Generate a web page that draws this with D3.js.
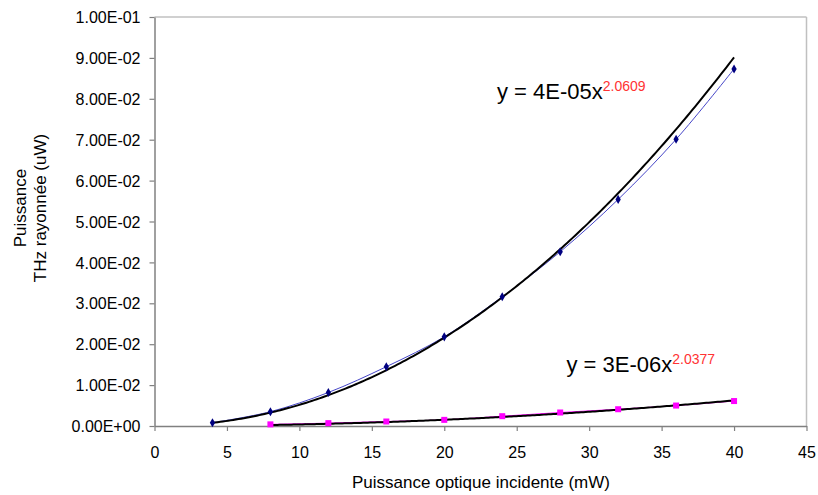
<!DOCTYPE html>
<html>
<head>
<meta charset="utf-8">
<script src="https://cdn.jsdelivr.net/npm/d3@7"></script>
<style>
  html, body { margin: 0; padding: 0; background: #fff; }
  svg text { font-family: "Liberation Sans", Arial, sans-serif; }
</style>
</head>
<body>
<div id="chart"></div>
<script>
// ---- data ----
const xTicks = [0, 5, 10, 15, 20, 25, 30, 35, 40, 45];
const yTicks = [0, 0.01, 0.02, 0.03, 0.04, 0.05, 0.06, 0.07, 0.08, 0.09, 0.10];
const yTickLabels = ["0.00E+00", "1.00E-02", "2.00E-02", "3.00E-02", "4.00E-02", "5.00E-02",
                     "6.00E-02", "7.00E-02", "8.00E-02", "9.00E-02", "1.00E-01"];

const seriesA_x = [4, 8, 12, 16, 20, 24, 28, 32, 36, 40];
const seriesA_y = [0.0008, 0.0035, 0.0082, 0.0145, 0.0218, 0.0316, 0.0426, 0.0554, 0.0701, 0.0873];

const seriesB_x = [8, 12, 16, 20, 24, 28, 32, 36, 40];
const seriesB_y = [0.0004, 0.0007, 0.0011, 0.0015, 0.0024, 0.0033, 0.0041, 0.0050, 0.0061];

// power trendlines y = a * x^b (exponent from the labels, coefficient)
const trendA = [4.5e-5, 2.0609];
const trendB = [3.4e-6, 2.0377];

const eqA = ["y = 4E-05x", "2.0609"];
const eqB = ["y = 3E-06x", "2.0377"];

const xTitle = "Puissance optique incidente (mW)";
const yTitle = ["Puissance", "THz rayonnée (uW)"];

// ---- layout ----
const W = 818, H = 495;
const L = 154.5, R = 806.5, T = 17, B = 426;

const svg = d3.select("#chart").append("svg").attr("width", W).attr("height", H);

const x = d3.scaleLinear().domain([0, 45]).range([L, R]);
const y = d3.scaleLinear().domain([0, 0.1]).range([B, T]);

// plot frame (top/right lighter)
svg.append("line").attr("x1", L).attr("x2", R).attr("y1", T).attr("y2", T)
  .attr("stroke", "#c0c0c0").attr("stroke-width", 1.5);
svg.append("line").attr("x1", R).attr("x2", R).attr("y1", T).attr("y2", B)
  .attr("stroke", "#c0c0c0").attr("stroke-width", 1.5);

// axes
const xAxis = svg.append("g").attr("transform", `translate(0,${B})`)
  .call(d3.axisBottom(x).tickValues(xTicks).tickSize(5).tickSizeOuter(0).tickPadding(16).tickFormat(d3.format("d")));
const yAxis = svg.append("g").attr("transform", `translate(${L},0)`)
  .call(d3.axisLeft(y).tickValues(yTicks).tickSize(5).tickSizeOuter(0).tickPadding(9)
    .tickFormat((d, i) => yTickLabels[i]));
[xAxis, yAxis].forEach(g => {
  g.select(".domain").attr("stroke", "#808080").attr("stroke-width", 1.5);
  g.selectAll(".tick line").attr("stroke", "#808080").attr("stroke-width", 1.2);
  g.selectAll(".tick text").attr("fill", "#000").style("font-size", "16px");
});
yAxis.selectAll(".tick text").attr("dy", "0.35em");

const lineGen = d3.line().x(d => x(d[0])).y(d => y(d[1]));

function drawSeries(xs, ys, lineColor, trend) {
  const pts = xs.map((v, i) => [v, ys[i]]);
  // thin smoothed connecting line
  svg.append("path").datum(pts)
    .attr("d", lineGen.curve(d3.curveCatmullRom.alpha(0.5))(pts))
    .attr("fill", "none").attr("stroke", lineColor).attr("stroke-width", 1);
  lineGen.curve(d3.curveLinear);
  // trendline over the data range
  const x0 = xs[0], x1 = xs[xs.length - 1];
  const tpts = d3.range(0, 201).map(k => {
    const v = x0 + (x1 - x0) * k / 200;
    return [v, trend[0] * Math.pow(v, trend[1])];
  });
  svg.append("path").datum(tpts).attr("d", lineGen)
    .attr("fill", "none").attr("stroke", "#000").attr("stroke-width", 2);
  return pts;
}

const ptsA = drawSeries(seriesA_x, seriesA_y, "#4646c8", trendA);
const ptsB = drawSeries(seriesB_x, seriesB_y, "#ff00ff", trendB);

// markers
svg.append("g").selectAll("path").data(ptsA).join("path")
  .attr("transform", d => `translate(${x(d[0])},${y(d[1])})`)
  .attr("d", d3.symbol(d3.symbolDiamond, 24)())
  .attr("fill", "#000080");
svg.append("g").selectAll("rect").data(ptsB).join("rect")
  .attr("x", d => x(d[0]) - 3).attr("y", d => y(d[1]) - 3)
  .attr("width", 6).attr("height", 6).attr("fill", "#ff00ff");

// equations
function equation(eq, xPos, yBase, raise) {
  const t = svg.append("text").attr("x", xPos).attr("y", yBase)
    .style("font-size", "22px").attr("fill", "#000");
  t.append("tspan").text(eq[0]);
  t.append("tspan").attr("dy", -raise).style("font-size", "14px").attr("fill", "#ff3333").text(eq[1]);
}
equation(eqA, 497, 98.5, 8);
equation(eqB, 566.5, 372, 8);

// axis titles
svg.append("text").attr("x", 481).attr("y", 488).attr("text-anchor", "middle")
  .style("font-size", "17px").attr("fill", "#000").text(xTitle);
const yt = svg.append("g").attr("transform", "translate(0,208) rotate(-90)");
yt.append("text").attr("x", 0).attr("y", 25.5).attr("text-anchor", "middle")
  .style("font-size", "17px").attr("fill", "#000").text(yTitle[0]);
yt.append("text").attr("x", 0).attr("y", 46).attr("text-anchor", "middle")
  .style("font-size", "17px").attr("fill", "#000").text(yTitle[1]);
</script>
</body>
</html>
